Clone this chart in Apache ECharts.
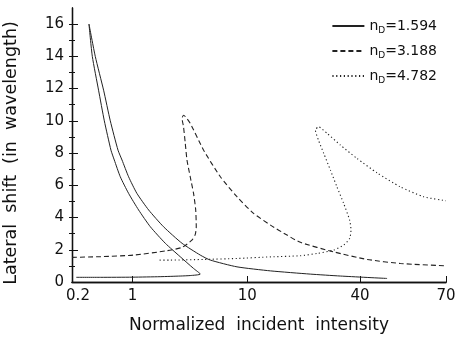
<!DOCTYPE html>
<html>
<head>
<meta charset="utf-8">
<script src="https://cdn.jsdelivr.net/npm/echarts@6/dist/echarts.min.js"></script>
<style>html,body{margin:0;padding:0;background:#fff}#c{width:455px;height:341px}</style>
</head>
<body>
<div id="c"></div>
<script>
// ---- data ----
const xTickValues = [0.2, 1, 10, 40, 70];
const xTickLabels = ['0.2', '1', '10', '40', '70'];
const yTickValues = [0, 2, 4, 6, 8, 10, 12, 14, 16];
const seriesNames = ['1.594', '3.188', '4.782'];

// n_D = 1.594 (solid)
const solidI = [0.224, 0.424, 1.0, 1.74, 2.60, 3.18, 3.89, 3.40, 2.60, 1.93, 1.427, 1.128, 0.899, 0.721, 0.615, 0.563, 0.472, 0.405, 0.343, 0.314,
                0.371, 0.463, 0.553, 0.679, 0.755, 0.899, 1.09, 1.38, 1.86, 2.70, 3.89, 4.76, 8.13, 13.3, 21.7, 31.4, 47.7];
const solidS = [0.29, 0.29, 0.30, 0.33, 0.37, 0.40, 0.49, 0.84, 1.57, 2.40, 3.43, 4.47, 5.50, 6.53, 7.57, 8.18, 10.0, 11.9, 14.0, 16.0,
                14.0, 11.9, 10.0, 8.18, 7.57, 6.53, 5.50, 4.47, 3.43, 2.40, 1.67, 1.36, 0.94, 0.69, 0.49, 0.37, 0.22];
// n_D = 3.188 (dashed)
const dashI = [0.2, 0.424, 1.02, 1.995, 2.70, 3.29, 3.52, 3.59, 3.55, 3.40, 3.18, 2.98, 2.88, 2.78, 2.70, 2.78, 3.18, 4.16, 5.82, 8.13, 10.8, 13.3, 16.3, 19.2, 28.9, 41.9, 52.0, 70];
const dashS = [1.53, 1.57, 1.67, 1.94, 2.15, 2.60, 2.95, 3.43, 4.47, 5.50, 6.53, 7.57, 8.60, 9.63, 10.15, 10.35, 9.84, 8.18, 6.53, 5.29, 4.26, 3.53, 2.91, 2.46, 1.87, 1.40, 1.15, 1.00];
// n_D = 4.782 (dotted)
const dotI = [1.72, 2.13, 4.16, 8.13, 13.3, 19.2, 23.6, 28.9, 32.7, 35.2, 35.8, 35.2, 32.7, 30.1, 27.8, 25.6, 24.0, 23.1, 24.0, 26.7, 31.4, 38.5, 44.7, 52.0, 60.5, 70];
const dotS = [1.36, 1.36, 1.40, 1.46, 1.56, 1.63, 1.77, 1.98, 2.29, 2.70, 3.22, 3.84, 4.88, 5.91, 6.94, 7.98, 8.80, 9.42, 9.63, 9.22, 8.50, 7.67, 6.77, 5.90, 5.29, 5.04];

// ---- the reference's non-uniform intensity axis: piecewise-logarithmic between tick anchors ----
const xAnchorFrac = [0, 0.162, 0.4687, 0.7701, 1];
function xScale(v) {
  const L = Math.log10(v);
  const A = xTickValues.map(Math.log10);
  let i = 0;
  while (i < A.length - 2 && L > A[i + 1]) i++;
  const f = (L - A[i]) / (A[i + 1] - A[i]);
  return xAnchorFrac[i] + f * (xAnchorFrac[i + 1] - xAnchorFrac[i]);
}
const pair = (I, S) => I.map((v, k) => [xScale(v), S[k]]);
const xTickPos = xTickValues.map(xScale);

const FONT = 'DejaVu Sans';
const INK = '#111';
const LINE = '#222';

const chart = echarts.init(document.getElementById('c'), null, {renderer: 'canvas'});
const gridRect = {left: 72, right: 9, top: 8, bottom: 59, containLabel: false, outerBoundsMode: 'none'};
const axisLine = {show: true, lineStyle: {color: INK, width: 1.3}};

chart.setOption({
  animation: false,
  backgroundColor: '#fff',
  grid: [Object.assign({}, gridRect), Object.assign({}, gridRect)],
  xAxis: [
    {
      type: 'value', gridIndex: 0, min: 0, max: 1, position: 'bottom',
      axisLine: axisLine,
      axisTick: {show: true, inside: true, length: 6, customValues: xTickPos, lineStyle: {color: INK, width: 1}},
      axisLabel: {
        show: true, customValues: xTickPos, margin: 7,
        fontFamily: FONT, fontSize: 15, color: INK,
        formatter: function (val) {
          let best = 0;
          xTickPos.forEach((p, k) => { if (Math.abs(p - val) < Math.abs(xTickPos[best] - val)) best = k; });
          return best === 0 ? '{s|' + xTickLabels[0] + '}' : xTickLabels[best];
        },
        rich: {s: {fontFamily: FONT, fontSize: 15, color: INK, padding: [0, 0, 0, 12]}}
      },
      splitLine: {show: false},
      name: 'Normalized  incident  intensity', nameLocation: 'middle', nameGap: 35,
      nameTextStyle: {fontFamily: FONT, fontSize: 17, color: INK}
    },
    {
      type: 'value', gridIndex: 0, min: 0, max: 1, position: 'top',
      axisLine: axisLine, axisTick: {show: false}, axisLabel: {show: false}, splitLine: {show: false}
    },
    {
      type: 'value', gridIndex: 1, min: 0, max: 1, show: false
    }
  ],
  yAxis: [
    {
      type: 'value', gridIndex: 0, min: 0, max: 17, position: 'left',
      axisLine: axisLine,
      axisTick: {show: true, inside: true, length: 6, customValues: yTickValues, lineStyle: {color: INK, width: 1}},
      axisLabel: {show: true, customValues: yTickValues, margin: 8, fontFamily: FONT, fontSize: 15, color: INK, padding: [3, 0, 0, 0]},
      splitLine: {show: false},
      name: 'Lateral  shift  (in  wavelength)', nameLocation: 'middle', nameGap: 52, nameRotate: 90,
      nameTextStyle: {fontFamily: FONT, fontSize: 17.5, color: INK, padding: [0, 16, 0, 0]}
    },
    {
      type: 'value', gridIndex: 0, min: 0, max: 17, position: 'right',
      axisLine: axisLine,
      axisTick: {show: true, inside: true, length: 3, customValues: [1,2,3,4,5,6,7,8,9,10,11,12,13,14,15,16], lineStyle: {color: INK, width: 1}},
      axisLabel: {show: false}, splitLine: {show: false}
    },
    {
      type: 'value', gridIndex: 1, min: 0, max: 17, position: 'left',
      axisLine: {show: false},
      axisTick: {show: true, inside: true, length: 3, customValues: [1,3,5,7,9,11,13,15], lineStyle: {color: INK, width: 1}},
      axisLabel: {show: false}, splitLine: {show: false}
    }
  ],
  legend: {
    show: true,
    orient: 'vertical', right: 13, top: 12, itemGap: 7,
    itemWidth: 32, itemHeight: 2,
    itemStyle: {opacity: 0},
    formatter: function (name) { return 'n{sub|D}' + name.slice(3); },
    textStyle: {
      fontFamily: FONT, fontSize: 14, color: INK, lineHeight: 18,
      rich: {sub: {fontFamily: FONT, fontSize: 9, color: INK, lineHeight: 18, padding: [9, 0, 0, 0]}}
    }
  },
  series: [
    {name: 'n_D=' + seriesNames[0], type: 'line', xAxisIndex: 0, yAxisIndex: 0, data: pair(solidI, solidS), showSymbol: false, symbol: 'none', smooth: 0.2,
     lineStyle: {color: LINE, width: 1, type: 'solid'}, itemStyle: {color: LINE}},
    {name: 'n_D=' + seriesNames[1], type: 'line', xAxisIndex: 0, yAxisIndex: 0, data: pair(dashI, dashS), showSymbol: false, symbol: 'none', smooth: 0.2,
     lineStyle: {color: LINE, width: 1.1, type: [5, 3]}, itemStyle: {color: LINE}},
    {name: 'n_D=' + seriesNames[2], type: 'line', xAxisIndex: 0, yAxisIndex: 0, data: pair(dotI, dotS), showSymbol: false, symbol: 'none', smooth: 0.2,
     lineStyle: {color: LINE, width: 1.1, type: [1.2, 2.6]}, itemStyle: {color: LINE}}
  ]
});
</script>
</body>
</html>
